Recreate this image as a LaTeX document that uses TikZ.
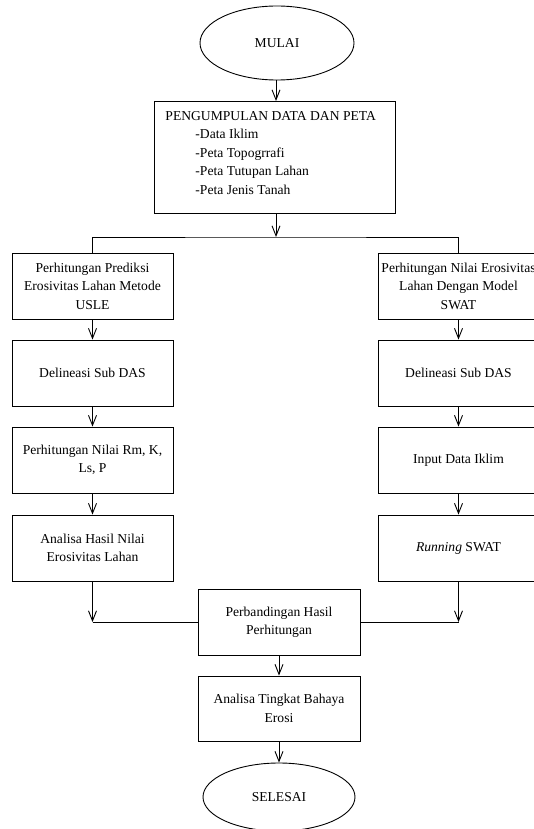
\documentclass[tikz,border=0pt]{standalone}
\usepackage{fontspec}
\setmainfont{Liberation Serif}
\usetikzlibrary{shapes.geometric,arrows.meta}
\begin{document}
\begin{tikzpicture}[x=1pt,y=-1pt,
  font=\fontsize{13.6}{18.5}\selectfont,
  line width=0.9pt,
  box/.style={draw, rectangle, minimum width=161pt, minimum height=66pt, inner sep=0pt, align=center},
  term/.style={draw, ellipse, inner sep=0pt},
  arr/.style={-{Straight Barb[length=10pt,width=8pt,line width=0.9pt]}}
]
\useasboundingbox (0,0) rectangle (534,829);
\clip (0,0) rectangle (534,829);
\fill[white] (0,0) rectangle (534,829);

\node[term, minimum width=154pt, minimum height=74pt] (mulai) at (277,43) {MULAI};
\node[draw, rectangle, minimum width=241pt, minimum height=112pt, inner sep=0pt] (data) at (274.5,157) {};
\node[anchor=north west, inner sep=0pt, align=left] (datatxt) at (165,111)
  {PENGUMPULAN DATA DAN PETA\\
   \hspace*{30pt}-Data Iklim\\
   \hspace*{30pt}-Peta Topogrrafi\\
   \hspace*{30pt}-Peta Tutupan Lahan\\
   \hspace*{30pt}-Peta Jenis Tanah};

\node[box] (L1) at (92.5,286) {Perhitungan Prediksi\\Erosivitas Lahan Metode\\USLE};
\node[box] (L2) at (92.5,373) {Delineasi Sub DAS};
\node[box] (L3) at (92.5,460) {Perhitungan Nilai Rm, K,\\Ls, P};
\node[box] (L4) at (92.5,548) {Analisa Hasil Nilai\\Erosivitas Lahan};

\node[box] (R1) at (458.5,286) {Perhitungan Nilai Erosivitas\\Lahan Dengan Model\\SWAT};
\node[box] (R2) at (458.5,373) {Delineasi Sub DAS};
\node[box] (R3) at (458.5,460) {Input Data Iklim};
\node[box] (R4) at (458.5,548) {\textit{Running} SWAT};

\node[box, minimum width=162pt] (banding) at (279,622) {Perbandingan Hasil\\Perhitungan};
\node[box, minimum width=162pt, minimum height=65pt] (analisa) at (279,708.5) {Analisa Tingkat Bahaya\\Erosi};
\node[term, minimum width=152pt, minimum height=68pt] (selesai) at (279,797) {SELESAI};

\coordinate (mtop) at (276,101);
\draw[arr] (mulai.south -| mtop) -- (mtop);
\coordinate (j) at (276,237);
\draw[arr] (data.south -| j) -- (j);
\draw (L1.north) |- (j) -| (R1.north);

\draw[arr] (L1) -- (L2);
\draw[arr] (L2) -- (L3);
\draw[arr] (L3) -- (L4);
\draw[arr] (R1) -- (R2);
\draw[arr] (R2) -- (R3);
\draw[arr] (R3) -- (R4);

\coordinate (jl) at (L4.south |- banding.west);
\coordinate (jr) at (R4.south |- banding.east);
\draw[arr] (L4.south) -- (jl);
\draw (jl) -- (banding.west);
\draw[arr] (R4.south) -- (jr);
\draw (jr) -- (banding.east);

\draw[arr] (banding) -- (analisa);
\draw[arr] (analisa) -- (selesai);
\end{tikzpicture}
\end{document}
